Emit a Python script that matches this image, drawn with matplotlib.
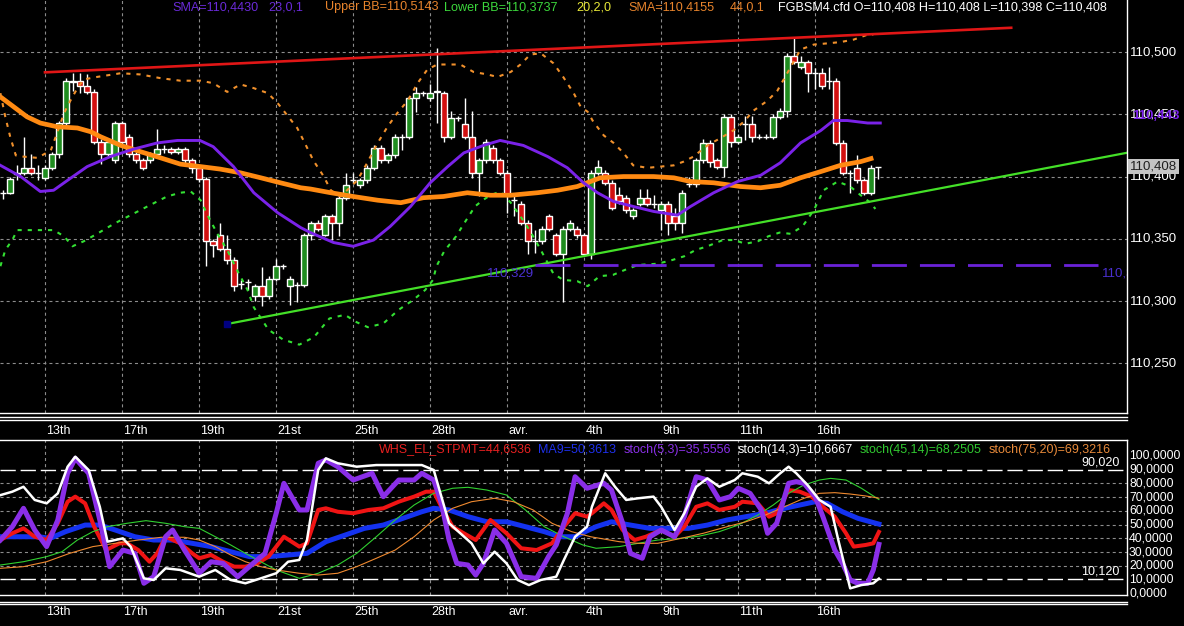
import matplotlib
matplotlib.use('Agg')
import matplotlib.pyplot as plt
from matplotlib.transforms import blended_transform_factory as btf
from matplotlib.lines import Line2D

plt.rcParams['font.family'] = ['Liberation Sans', 'DejaVu Sans']
plt.rcParams['lines.scale_dashes'] = False

# ---------------- candle data (FGBSM4.cfd) ----------------
opens = [110.387,110.387,110.402,110.403,110.407,110.403,110.399,110.407,110.418,110.443,
         110.477,110.477,110.473,110.468,110.428,110.418,110.413,110.443,110.432,110.418,
         110.413,110.413,110.418,110.422,110.422,110.420,110.422,110.413,110.407,110.398,
         110.348,110.353,110.342,110.333,110.314,110.315,110.304,110.312,110.304,110.318,
         110.328,110.312,110.313,110.313,110.353,110.363,110.353,110.368,110.363,110.383,
         110.397,110.393,110.397,110.407,110.423,110.413,110.417,110.432,110.432,110.463,
         110.467,110.463,110.468,110.467,110.432,110.447,110.442,110.432,110.403,110.413,
         110.423,110.413,110.403,110.381,110.378,110.363,110.348,110.348,110.368,110.353,
         110.338,110.358,110.358,110.353,110.338,110.403,110.403,110.395,110.385,110.383,
         110.368,110.378,110.383,110.378,110.373,110.378,110.368,110.363,110.394,110.394,
         110.413,110.427,110.413,110.408,110.448,110.428,110.442,110.442,110.432,110.432,
         110.432,110.448,110.453,110.497,110.488,110.492,110.483,110.483,110.477,110.477,
         110.427,110.403,110.407,110.397,110.387,110.408]
highs = [110.389,110.400,110.409,110.432,110.418,110.409,110.409,110.420,110.445,110.479,
         110.483,110.483,110.482,110.470,110.430,110.430,110.445,110.445,110.434,110.420,
         110.415,110.420,110.438,110.425,110.424,110.424,110.424,110.415,110.409,110.400,
         110.350,110.363,110.353,110.335,110.317,110.318,110.314,110.327,110.320,110.334,
         110.330,110.320,110.315,110.355,110.364,110.365,110.370,110.370,110.385,110.403,
         110.403,110.399,110.409,110.425,110.425,110.419,110.434,110.434,110.465,110.472,
         110.469,110.474,110.503,110.469,110.453,110.449,110.463,110.453,110.415,110.430,
         110.425,110.415,110.405,110.385,110.380,110.365,110.357,110.360,110.370,110.355,
         110.360,110.365,110.360,110.355,110.405,110.413,110.405,110.397,110.392,110.385,
         110.375,110.390,110.390,110.385,110.380,110.380,110.375,110.389,110.400,110.415,
         110.430,110.429,110.415,110.450,110.450,110.434,110.449,110.449,110.434,110.434,
         110.450,110.455,110.499,110.512,110.497,110.494,110.487,110.487,110.488,110.479,
         110.429,110.405,110.417,110.399,110.409,110.408]
lows = [110.382,110.386,110.397,110.401,110.401,110.397,110.397,110.405,110.415,110.441,
        110.469,110.467,110.466,110.426,110.410,110.416,110.411,110.426,110.416,110.411,
        110.405,110.411,110.416,110.419,110.418,110.418,110.411,110.403,110.396,110.328,
        110.335,110.340,110.330,110.308,110.310,110.309,110.300,110.296,110.302,110.316,
        110.326,110.297,110.299,110.311,110.349,110.356,110.352,110.349,110.352,110.381,
        110.395,110.391,110.395,110.405,110.411,110.411,110.415,110.421,110.430,110.452,
        110.465,110.461,110.443,110.428,110.430,110.445,110.430,110.399,110.384,110.411,
        110.411,110.401,110.371,110.368,110.361,110.338,110.339,110.346,110.356,110.336,
        110.299,110.356,110.351,110.336,110.334,110.401,110.393,110.373,110.378,110.371,
        110.366,110.376,110.376,110.375,110.357,110.353,110.357,110.355,110.392,110.392,
        110.411,110.408,110.406,110.400,110.424,110.426,110.429,110.428,110.430,110.430,
        110.430,110.446,110.448,110.490,110.486,110.468,110.470,110.470,110.470,110.425,
        110.401,110.387,110.395,110.385,110.385,110.398]
closes = [110.387,110.398,110.403,110.407,110.403,110.403,110.407,110.418,110.443,110.477,
          110.476,110.473,110.468,110.428,110.418,110.428,110.443,110.428,110.418,110.413,
          110.407,110.418,110.422,110.422,110.420,110.422,110.413,110.407,110.398,110.348,
          110.345,110.342,110.333,110.312,110.314,110.315,110.312,110.304,110.318,110.328,
          110.328,110.318,110.313,110.353,110.363,110.358,110.368,110.363,110.383,110.393,
          110.397,110.397,110.407,110.423,110.413,110.417,110.432,110.432,110.463,110.467,
          110.467,110.467,110.469,110.432,110.447,110.447,110.432,110.403,110.413,110.428,
          110.413,110.403,110.385,110.381,110.363,110.348,110.348,110.358,110.358,110.338,
          110.358,110.363,110.353,110.338,110.403,110.408,110.395,110.375,110.380,110.373,
          110.373,110.383,110.378,110.378,110.378,110.363,110.363,110.387,110.394,110.413,
          110.427,110.412,110.408,110.448,110.428,110.432,110.442,110.432,110.432,110.432,
          110.448,110.453,110.497,110.492,110.492,110.483,110.483,110.473,110.477,110.427,
          110.403,110.403,110.397,110.387,110.407,110.408]

# ---------------- top indicators (bar index, price) ----------------
sma23_x = [-0.4,2.5,5.3,7.2,9.2,12.0,15.3,18.6,22.0,24.9,28.1,30.0,32.9,35.8,39.2,42.5,43.9,47.2,50.0,52.9,
           55.3,58.2,61.0,63.5,65.8,68.6,71.0,74.3,77.8,80.6,82.9,84.9,87.2,90.0,92.9,96.3,98.2,101.5,104.9,
           108.2,111.0,113.9,116.8,118.6,120.6,123.5,125.3]
sma23 = [110.409,110.400,110.388,110.389,110.397,110.408,110.416,110.422,110.427,110.429,110.429,110.424,
         110.408,110.387,110.371,110.359,110.355,110.347,110.344,110.349,110.360,110.376,110.395,110.408,
         110.419,110.425,110.429,110.425,110.416,110.407,110.395,110.387,110.380,110.376,110.372,110.369,
         110.376,110.387,110.396,110.401,110.411,110.427,110.437,110.445,110.445,110.443,110.443]
sma44_x = [-0.4,1.5,3.4,5.3,7.7,10.6,12.5,13.9,16.8,19.6,22.5,25.3,28.2,31.0,33.9,36.8,39.6,42.5,43.9,46.8,
           50.0,53.5,56.8,60.0,62.9,66.3,69.6,72.5,76.3,79.2,82.0,85.3,88.6,92.9,95.8,98.2,101.5,105.3,108.2,
           111.0,113.9,116.8,119.6,122.5,124.3]
sma44 = [110.464,110.456,110.448,110.443,110.440,110.439,110.436,110.432,110.425,110.420,110.415,110.410,
         110.408,110.406,110.403,110.399,110.395,110.391,110.390,110.387,110.384,110.381,110.379,110.383,
         110.384,110.387,110.385,110.385,110.387,110.389,110.392,110.399,110.400,110.400,110.399,110.396,
         110.395,110.392,110.391,110.393,110.399,110.404,110.409,110.412,110.415]
ubb_x = [-0.4,0.3,1.0,1.8,2.9,4.9,6.8,7.7,8.7,9.6,10.6,11.5,13.4,16.8,19.6,22.5,25.3,28.2,30.0,32.0,33.9,
         35.8,37.8,39.2,40.6,42.0,42.9,44.3,45.8,46.8,48.2,50.6,52.0,53.5,54.9,56.3,57.8,59.2,60.6,62.0,63.9,
         65.3,67.2,69.2,70.6,72.5,73.9,75.3,76.8,78.6,80.0,81.5,82.5,83.5,84.3,85.8,87.2,88.6,90.0,92.0,93.9,
         95.8,97.2,98.6,100.6,102.5,104.3,105.8,107.2,109.2,110.6,111.5,112.5,113.9,115.8,117.8,119.6,121.5,
         123.5,124.3]
ubb = [110.467,110.448,110.432,110.417,110.416,110.415,110.421,110.435,110.451,110.461,110.471,110.478,
       110.480,110.483,110.482,110.479,110.477,110.477,110.475,110.468,110.474,110.471,110.467,110.459,
       110.449,110.439,110.429,110.413,110.400,110.389,110.384,110.397,110.411,110.427,110.440,110.451,
       110.461,110.475,110.486,110.490,110.490,110.490,110.484,110.482,110.480,110.484,110.490,110.498,
       110.499,110.491,110.480,110.467,110.456,110.452,110.444,110.433,110.427,110.419,110.409,110.407,
       110.408,110.409,110.412,110.416,110.425,110.431,110.437,110.444,110.453,110.461,110.469,110.478,
       110.488,110.502,110.506,110.507,110.508,110.510,110.514,110.514]
lbb_x = [-0.4,0.3,1.3,2.0,3.4,5.8,7.2,8.7,9.9,11.5,13.4,15.8,18.2,20.6,23.4,25.3,26.8,28.2,29.1,30.6,32.0,
         33.4,34.9,35.8,37.9,40.0,42.3,44.4,46.6,48.8,50.5,52.1,54.3,56.5,58.6,60.3,61.4,61.9,63.0,64.7,65.8,
         67.4,68.5,69.6,71.0,72.5,73.9,75.3,76.8,78.6,80.0,82.0,83.5,85.2,87.1,88.8,90.7,93.5,95.6,97.3,98.9,
         100.6,102.8,104.5,106.0,107.8,109.3,110.9,112.5,114.2,115.8,117.2,119.2,121.0,122.5,123.9,124.6]
lbb = [110.328,110.341,110.349,110.357,110.357,110.357,110.357,110.352,110.344,110.348,110.354,110.362,
       110.369,110.376,110.384,110.387,110.388,110.381,110.370,110.354,110.341,110.325,110.309,110.295,
       110.277,110.269,110.265,110.271,110.286,110.289,110.283,110.279,110.282,110.293,110.301,110.309,
       110.317,110.328,110.340,110.352,110.362,110.376,110.381,110.385,110.388,110.379,110.368,110.356,
       110.341,110.322,110.317,110.316,110.312,110.320,110.321,110.325,110.329,110.330,110.333,110.336,
       110.341,110.344,110.349,110.349,110.346,110.348,110.352,110.355,110.354,110.360,110.373,110.389,
       110.396,110.392,110.385,110.379,110.374]
red_trend_x = [5.97, 144.0]
red_trend = [110.4837, 110.5195]
green_trend_x = [32.0, 160.54]
green_trend = [110.2816, 110.4191]
level_x = [75.9, 156.4]
level_price = 110.329

price_ticks = [110.25, 110.30, 110.35, 110.40, 110.45, 110.50]
price_labels = ['110,250', '110,300', '110,350', '110,400', '110,450', '110,500']
last_price = 110.408
sma23_last = 110.443

# ---------------- oscillators (bar index, value) ----------------
white_x = [-0.4,1.3,2.9,4.5,6.2,7.8,9.2,10.3,12.2,13.8,14.9,17.1,18.2,20.1,21.5,23.2,25.3,28.0,30.3,32.5,
           34.6,36.8,39.0,40.7,42.3,43.4,45.0,46.1,47.8,50.5,53.3,57.1,59.8,61.5,62.6,63.7,65.3,66.9,68.6,
           70.2,71.9,73.5,75.1,76.8,79.0,80.1,81.7,83.4,84.1,86.0,87.4,89.0,90.7,92.9,94.0,95.9,97.3,99.0,
           100.6,102.3,104.5,105.6,107.8,109.4,111.0,112.2,113.3,114.9,116.6,118.2,119.3,121.0,122.6,124.3,125.1]
white_v = [71.5,74,77.6,68,65.5,72.8,92.2,99.5,89.8,63,37.6,40,34,10.9,9.7,18.2,17,12.1,17,9.7,
           7.3,10.9,14.6,23,24.3,38.8,89.8,98.3,94.7,92.2,93.4,93.4,93.4,89.8,70.4,51,43.7,36.4,21.8,
           30.3,21.8,9.7,6,9.7,12.1,24.3,41.2,48.5,63,87.4,77.6,68,69.2,70.4,63,46.1,58.3,77.6,
           83.7,77.6,82.5,87.4,84.9,80.1,87.4,92.2,87.4,78.9,68,63,38.8,3.6,6,7.3,10.7]
purple_x = [-0.4,1.3,2.9,4.5,6.2,7.8,9.2,10.3,12.2,13.8,15.2,17.1,18.8,20.1,21.5,23.2,24.2,25.9,28.0,29.7,
            31.4,33.5,35.7,37.4,39.0,40.1,42.3,43.4,45.0,46.1,47.8,50.0,52.7,54.3,56.5,58.7,59.8,61.5,62.6,
            63.7,64.8,66.4,67.5,68.6,70.2,71.9,74.0,76.2,77.9,79.0,80.6,81.7,83.4,85.8,86.9,88.5,89.6,91.3,
            92.4,94.0,95.9,97.3,99.0,100.6,102.3,103.9,105.0,106.7,108.3,109.2,110.5,112.2,113.3,114.4,116.0,
            117.1,118.8,119.9,121.0,122.1,123.5,124.3,125.1]
purple_v = [38.8,48.5,61.9,46.1,34,53.4,87.4,98.3,87.4,53.4,19.4,31.5,29.1,7.3,12.1,41.2,46.1,31.5,14.6,23,
            21.8,12.1,21.8,29.1,58.3,80.1,60.7,60.7,94.7,97.1,92.2,82.5,87.4,70.4,82.5,82.5,87.4,82.5,65.5,
            38.8,21.8,20.6,13.3,21.8,46.1,36.4,12.1,10.9,26.7,35.2,58.3,84.9,76.5,80.1,75.2,51,29.1,25.5,
            41.2,46.1,41.2,55.8,84.9,82.5,68,70.4,76.5,72.8,60.7,43.7,51,80.1,81.3,80.1,70.4,
            55.8,31.5,21.8,9.7,7.3,7.3,17,35.6]
red_x = [-0.4,1.3,2.9,4.5,6.2,7.8,9.2,10.3,11.7,13.0,14.7,16.6,17.7,19.3,20.9,22.0,23.2,25.3,27.0,28.0,
         29.7,31.4,33.0,34.6,36.3,37.9,40.1,42.3,43.4,45.0,46.1,47.8,50.0,52.2,54.3,56.5,58.7,60.4,61.5,62.6,
         64.2,65.8,67.5,69.6,71.9,74.0,76.2,78.4,80.1,81.7,83.4,84.1,85.8,86.9,88.5,90.2,91.8,94.0,95.9,97.3,
         99.0,100.6,102.3,104.5,105.6,107.8,109.4,110.5,112.2,113.8,115.5,117.1,118.8,120.4,121.5,123.2,124.3,125.1]
red_v = [38.8,43.7,47.3,41.2,38.8,51,66.7,70.4,65.5,48.5,31.5,36.4,36.4,31.5,23,29.1,41.2,36.4,29.1,25.5,
         27.9,23,19.4,19.4,21.8,26.7,41.2,34,36.4,60.7,61.9,59.4,58.3,60.7,61.9,66.7,70.4,74,74,63,
         48.5,43.7,38.8,53.4,43.7,32.8,31.5,36.4,48.5,58.3,55.8,58.3,65.5,60.7,46.1,38.8,41.2,46.1,41.2,48.5,
         63,65.5,60.7,63,66.7,65.5,55.8,58.3,75.2,74,70.4,63,55.8,43.7,34,35.2,36.4,44.7]
blue_x = [-0.4,5.1,6.7,8.9,11.7,13.8,16.0,18.8,21.5,24.2,27.0,29.7,32.5,35.2,37.9,40.7,43.4,46.1,48.9,51.6,
          54.3,57.1,59.8,61.5,63.7,66.4,69.1,71.9,74.6,77.3,79.5,81.7,83.4,84.7,86.9,89.6,92.4,95.1,97.9,100.6,
          103.4,106.1,108.9,111.6,113.8,116.0,117.7,119.9,122.1,125.1]
blue_v = [41.2,41.2,40,44.9,49.7,49.7,46.1,41.2,38.8,38.8,36.4,34,30.3,26.7,26.7,27.9,29.1,37.6,42.5,47.3,
          49.7,54.6,59.4,61.9,60.7,55.8,52.1,52.1,48.5,44.9,41.2,41.2,45.5,48.5,52.1,49.7,47.3,47.3,47.3,49.7,
          53.4,55.8,58.3,61.9,64.3,66.7,65.5,59.4,54.6,50.4]
green_x = [-0.4,2.9,6.2,8.4,10.6,12.8,14.9,17.7,20.4,23.2,25.9,28.0,30.3,32.5,34.6,36.8,39.0,42.3,45.0,47.8,
           50.5,53.3,56.0,58.7,61.5,64.2,66.4,69.1,71.9,74.6,77.3,80.1,82.8,84.7,88.0,90.7,93.5,96.8,99.5,102.3,
           105.0,107.8,110.0,112.2,114.4,116.6,118.2,120.4,122.6,125.1]
green_v = [20.6,23,26.7,30.3,38.8,44.9,48.5,51,52.9,51,48.5,47.3,41.2,35.2,29.1,23,17,10.9,14.6,20.6,
           29.1,41.2,53.4,64.3,72.8,76.5,77.2,75.2,71.6,60.7,48.5,41.2,35.2,32.8,34,36.4,38.8,40,41.7,44.9,
           49.7,57,64.3,72.8,78.9,82.5,83.7,82.5,76.5,68.3]
orange_x = [-0.4,2.9,6.2,9.5,12.8,16.0,19.3,22.6,25.9,28.0,30.3,32.5,34.6,36.8,39.0,42.3,45.0,47.8,50.5,53.3,
            56.0,58.7,61.5,64.2,66.9,70.2,72.9,75.7,78.4,81.2,83.9,88.0,90.7,93.5,96.8,100.0,103.4,106.1,108.9,
            111.6,114.4,116.6,118.8,121.0,123.2,125.1]
orange_v = [18.2,19.4,23,29.1,34,36.4,38.8,40.8,40.8,38.8,34,27.9,23,19.4,17,14.6,13.3,14.6,19.4,25.5,
            31.5,41.2,53.4,61.9,66.7,69.2,66.7,60.7,51,44.9,41.2,37.6,36.4,36.4,40,43.7,48.5,52.1,57,
            63,69.2,72.8,73.3,72.3,70.9,69.3]
osc_ticks = [0, 10, 20, 30, 40, 50, 60, 70, 80, 90, 100]
osc_labels = ['0,0000', '10,0000', '20,0000', '30,0000', '40,0000', '50,0000',
              '60,0000', '70,0000', '80,0000', '90,0000', '100,0000']
upper_level, lower_level = 90.020, 10.120

grid_bars = [6, 17, 28, 39, 50, 61, 72, 83, 94, 105, 116]
date_labels = ['13th', '17th', '19th', '21st', '25th', '28th', 'avr.', '4th', '9th', '11th', '16th']

# ---------------- figure ----------------
W, H = 1184, 626
fig = plt.figure(figsize=(W / 100, H / 100), dpi=100, facecolor='black')

def fx(px):
    return px / W

def fy(py):
    return 1 - py / H

ax1 = fig.add_axes([0, fy(413), fx(1127), 413 / H])
ax2 = fig.add_axes([0, fy(595), fx(1127), (595 - 440) / H])
for ax in (ax1, ax2):
    ax.set_facecolor('black')
    ax.set_xticks([])
    ax.set_yticks([])
    for s in ax.spines.values():
        s.set_visible(False)
    ax.set_xlim(-3.2 / 7, (1127 - 3.2) / 7)
ax1.set_ylim(110.2101, 110.5418)
ax2.set_ylim(-1.24, 111.65)

GRID = dict(color='#8c8c8c', lw=0.8, dashes=(2.2, 2.2))
# grid
for b in grid_bars:
    ax1.axvline(b, zorder=1, **GRID)
    ax2.axvline(b, zorder=1, **GRID)
for p in price_ticks:
    ax1.axhline(p, zorder=1, **GRID)
for v in [20, 30, 40, 50, 60, 70, 80]:
    ax2.axhline(v, zorder=1, **GRID)

# candles
idx = list(range(len(opens)))
body = [c - o for o, c in zip(opens, closes)]
cols = ['#1f8c1f' if c > o else ('#d21010' if c < o else 'black') for o, c in zip(opens, closes)]
ax1.vlines(idx, lows, highs, color='white', lw=1.0, zorder=3)
ax1.bar(idx, body, bottom=opens, width=0.8, color=cols, edgecolor='white', linewidth=1.0, zorder=4)

# indicators
ax1.plot(ubb_x, ubb, color='#f0902c', lw=1.5, dashes=(3, 4.3), zorder=5)
ax1.plot(lbb_x, lbb, color='#33e033', lw=1.5, dashes=(3, 4.3), zorder=5)
ax1.plot(sma44_x, sma44, color='#ff8a12', lw=3.4, zorder=6, solid_capstyle='butt')
ax1.plot(sma23_x, sma23, color='#7a22e8', lw=2.1, zorder=7)
ax1.plot(red_trend_x, red_trend, color='#e01616', lw=1.9, zorder=7)
ax1.plot(green_trend_x, green_trend, color='#44e028', lw=1.6, zorder=7)
ax1.plot([green_trend_x[0]], [green_trend[0]], marker='s', ms=4, color='#000080', zorder=8)
ax1.plot(level_x, [level_price, level_price], color='#6a22d8', lw=2.0, dashes=(25.2, 9.4), zorder=7)
ax1.text(level_x[0] - 0.1, level_price - 0.0065, '110,329', color='#4a30d0', fontsize=9.5,
         ha='right', va='center', zorder=8)
ax1.text(157.0, level_price - 0.0065, '110,329', color='#4a30d0', fontsize=9.5,
         ha='left', va='center', zorder=8, clip_on=True)

# oscillators
ax2.axhline(upper_level, color='white', lw=1.0, dashes=(11, 3.5), zorder=2)
ax2.axhline(lower_level, color='white', lw=1.0, dashes=(11, 3.5), zorder=2)
ax2.plot(blue_x, blue_v, color='#1432f0', lw=3.6, zorder=3)
ax2.plot(red_x, red_v, color='#f01414', lw=2.9, zorder=4)
ax2.plot(green_x, green_v, color='#30d030', lw=0.8, zorder=5)
ax2.plot(orange_x, orange_v, color='#f08a30', lw=0.8, zorder=5)
ax2.plot(purple_x, purple_v, color='#8a2ee8', lw=3.6, zorder=6)
ax2.plot(white_x, white_v, color='white', lw=1.8, zorder=7)
ax2.text(0.9935 * (1127 - 3.2) / 7, upper_level + 5.5, '90,020', color='white', fontsize=9,
         ha='right', va='center', zorder=8)
ax2.text(0.9935 * (1127 - 3.2) / 7, lower_level + 5.5, '10,120', color='white', fontsize=9,
         ha='right', va='center', zorder=8)

# right axis labels
tr1 = btf(fig.transFigure, ax1.transData)
for p, lab in zip(price_ticks, price_labels):
    fig.text(fx(1130), p, lab, transform=tr1, color='white', fontsize=9.5, va='center', ha='left')
fig.text(fx(1132), sma23_last + 0.006, '110,443', transform=tr1, color='#7a22e8', fontsize=9.5,
         va='center', ha='left', fontweight='bold')
fig.text(fx(1130), last_price, '110,408', transform=tr1, color='#202020', fontsize=9.5,
         va='center', ha='left', bbox=dict(facecolor='#c4c4c4', edgecolor='none', pad=1.2))
tr2 = btf(fig.transFigure, ax2.transData)
for v, lab in zip(osc_ticks, osc_labels):
    fig.text(fx(1129), v, lab, transform=tr2, color='white', fontsize=8.8, va='center', ha='left')

# date labels
trd1 = btf(ax1.transData, fig.transFigure)
trd2 = btf(ax2.transData, fig.transFigure)
for b, lab in zip(grid_bars, date_labels):
    ax1.text(b + 0.15, fy(431), lab, transform=trd1, color='white', fontsize=9,
             ha='left', va='center', clip_on=False)
    ax2.text(b + 0.15, fy(612), lab, transform=trd2, color='white', fontsize=9,
             ha='left', va='center', clip_on=False)

# legends
top_legend = [(172, 'SMA=110,4430', '#6a2ad8'), (268, '23,0,1', '#6a2ad8'),
              (325, 'Upper BB=110,5143', '#e8842c'), (444, 'Lower BB=110,3737', '#3cd83c'),
              (576, '20,2,0', '#e8e838'), (628, 'SMA=110,4155', '#e8842c'), (730, '44,0,1', '#e8842c'),
              (778, 'FGBSM4.cfd O=110,408 H=110,408 L=110,398 C=110,408', 'white')]
for x, s, c in top_legend:
    fig.text(fx(x), fy(7), s, color=c, fontsize=9.1, va='center', ha='left')
bot_legend = [(379, 'WHS_EL_STPMT=44,6536', '#e82020'), (538, 'MA9=50,3613', '#1e30ec'),
              (624, 'stoch(5,3)=35,5556', '#8a30e8'), (738, 'stoch(14,3)=10,6667', 'white'),
              (860, 'stoch(45,14)=68,2505', '#30c830'), (989, 'stoch(75,20)=69,3216', '#e88a3a')]
for x, s, c in bot_legend:
    fig.text(fx(x), fy(449.5), s, color=c, fontsize=9, va='center', ha='left', zorder=10)

# frame lines
def hline(py, x0=0, x1=1127):
    fig.add_artist(Line2D([fx(x0), fx(x1)], [fy(py), fy(py)], color='white', lw=1.0))

def vline(px, y0, y1):
    fig.add_artist(Line2D([fx(px), fx(px)], [fy(y0), fy(y1)], color='white', lw=1.0))

vline(1127, 0, 413)
for py in (413, 417, 420):
    hline(py)
hline(440)
vline(1127, 440, 595)
for py in (595, 601.5, 604):
    hline(py)

fig.savefig('out.png', dpi=100, facecolor='black')
